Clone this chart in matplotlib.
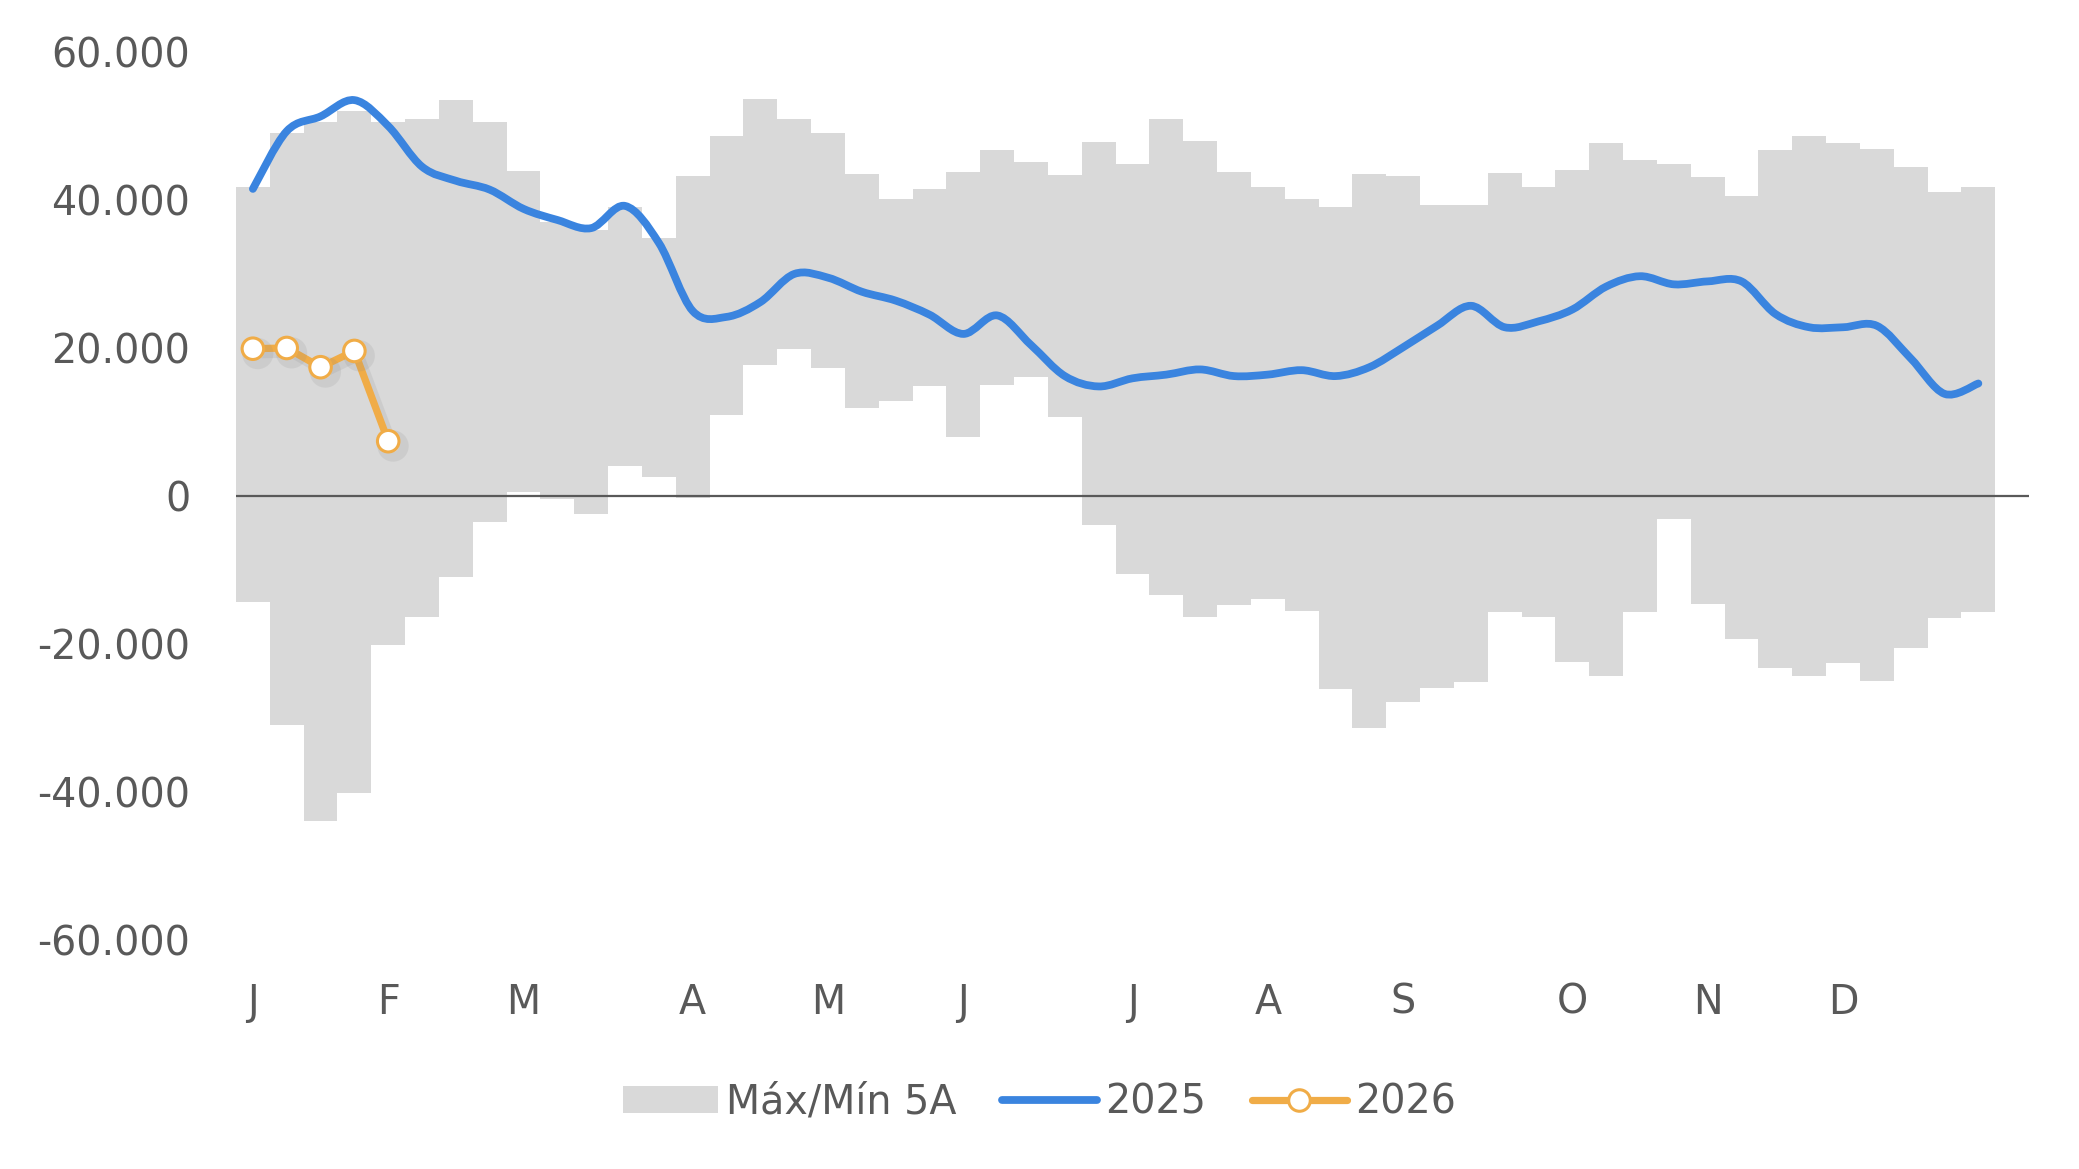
import numpy as np
import matplotlib.pyplot as plt
from matplotlib.path import Path
from matplotlib.patches import PathPatch, Patch
from matplotlib.lines import Line2D
from matplotlib.ticker import FuncFormatter
import matplotlib.patheffects as pe

# weekly data (52 weeks)
max5 = [41700, 49000, 50500, 52000, 50500, 50900, 53500, 50500, 43900, 37000,
        36000, 39100, 34800, 43200, 48600, 53600, 50900, 49100, 43500, 40200,
        41500, 43800, 46700, 45100, 43400, 47900, 44900, 51000, 48000, 43800,
        41700, 40100, 39100, 43500, 43300, 39300, 39300, 43700, 41800, 44100,
        47700, 45400, 44900, 43100, 40600, 46700, 48600, 47700, 46900, 44400,
        41100, 41800]
min5 = [-14400, -31000, -44000, -40200, -20100, -16400, -10900, -3500, 550, -400,
        -2500, 4100, 2600, -300, 11000, 17700, 19900, 17250, 11900, 12900,
        14900, 8000, 15000, 16100, 10700, -3900, -10500, -13400, -16400, -14800,
        -13900, -15500, -26100, -31300, -27900, -25900, -25100, -15700, -16400, -22400,
        -24400, -15700, -3100, -14600, -19300, -23300, -24400, -22600, -25000, -20500,
        -16500, -15700]
y2025 = [41500, 49300, 51300, 53500, 50000, 44500, 42600, 41400, 38800, 37300,
         36200, 39200, 34200, 25000, 24200, 26200, 30000, 29500, 27600, 26400,
         24500, 21900, 24400, 20400, 16200, 14800, 15900, 16400, 17100, 16200,
         16400, 17000, 16200, 17400, 20100, 23000, 25700, 22800, 23600, 25200,
         28300, 29700, 28600, 29000, 29000, 24600, 22800, 22800, 23000, 18600,
         13800, 15200]
y2026 = [19900, 20000, 17400, 19600, 7400]

month_pos = [0, 4, 8, 13, 17, 21, 26, 30, 34, 39, 43, 47]
month_lab = ['J', 'F', 'M', 'A', 'M', 'J', 'J', 'A', 'S', 'O', 'N', 'D']

GRAY = '#D9D9D9'
BLUE = '#3A84DF'
ORANGE = '#F0AC47'
TXT = '#595959'

plt.rcParams['font.family'] = ['DejaVu Sans']

fig = plt.figure(figsize=(20.79, 11.69), dpi=100)
ax = fig.add_axes([0.1135, 0.196, 0.8625, 0.7595])

weeks = np.arange(len(max5))
hi = np.array(max5)
lo = np.array(min5)
ax.bar(weeks, hi - lo, bottom=lo, width=1.0, color=GRAY, linewidth=0, zorder=1)

ax.axhline(0, color=TXT, lw=1.6, zorder=2)

# smoothed 2025 line (Bezier through the weekly points)
pts = np.column_stack([np.arange(len(y2025)), y2025]).astype(float)
verts = [pts[0]]
codes = [Path.MOVETO]
n = len(pts)
for i in range(n - 1):
    p0 = pts[i - 1] if i > 0 else pts[i]
    p1 = pts[i]
    p2 = pts[i + 1]
    p3 = pts[i + 2] if i + 2 < n else pts[i + 1]
    c1 = p1 + (p2 - p0) / 6.0
    c2 = p2 - (p3 - p1) / 6.0
    verts += [c1, c2, p2]
    codes += [Path.CURVE4] * 3
ax.add_patch(PathPatch(Path(verts, codes), fill=False, edgecolor=BLUE, lw=5.6,
                       capstyle='round', joinstyle='round', zorder=3))

shadow = [pe.SimpleLineShadow(offset=(3.5, -3.5), shadow_color='#888888', alpha=0.15, linewidth=7),
          pe.Normal()]
ax.plot(np.arange(len(y2026)), y2026, color=ORANGE, lw=5.2, marker='o', ms=15.5,
        mfc='white', mec=ORANGE, mew=2.2, solid_capstyle='round', zorder=4,
        path_effects=shadow)

ax.set_xlim(-0.5, 52.5)
ax.set_ylim(-60000, 60000)
ax.set_yticks(np.arange(-60000, 60001, 20000))
ax.yaxis.set_major_formatter(FuncFormatter(lambda v, p: f"{int(v):,}".replace(',', '.')))
ax.set_xticks(month_pos)
ax.set_xticklabels(month_lab)
ax.tick_params(axis='both', length=0, labelsize=28.5, colors=TXT)
ax.tick_params(axis='x', pad=31)
ax.tick_params(axis='y', pad=33)
for s in ax.spines.values():
    s.set_visible(False)

handles = [Patch(facecolor=GRAY, edgecolor='none', label='Máx/Mín 5A'),
           Line2D([], [], color=BLUE, lw=5.6, solid_capstyle='round', label='2025'),
           Line2D([], [], color=ORANGE, lw=5.2, marker='o', ms=15.5, mfc='white', mec=ORANGE,
                  mew=2.2, solid_capstyle='round', label='2026')]
leg = fig.legend(handles=handles, loc='center', bbox_to_anchor=(0.5, 0.057), ncol=3,
                 frameon=False, fontsize=28.5, handlelength=2.4, handletextpad=0.2,
                 columnspacing=1.15, labelcolor=TXT)

fig.savefig('out.png', dpi=100, facecolor='white')
